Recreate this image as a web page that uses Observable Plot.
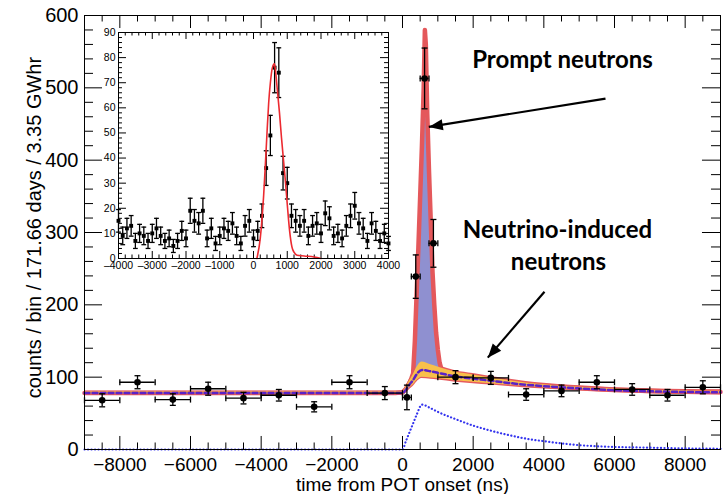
<!DOCTYPE html>
<html><head><meta charset="utf-8">
<script src="https://cdn.jsdelivr.net/npm/d3@7"></script>
<script src="https://cdn.jsdelivr.net/npm/@observablehq/plot@0.6"></script>
<style>
body{margin:0;background:#fff;}
#wrap{position:relative;width:725px;height:494px;overflow:hidden;}
#wrap svg{position:absolute;}
</style></head><body><div id="wrap"></div>
<script>
// ---------- main panel data ----------
const mainX     = [-8500,-7500,-6500,-5500,-4500,-3500,-2500,-1500,-500,125,375,625,875,1500,2500,3500,4500,5500,6500,7500,8500];
const mainXErr  = [500,500,500,500,500,500,500,500,500,125,125,125,125,500,500,500,500,500,500,500,500];
const mainY     = [68,93,69,84,71,75,59,93,78,72,239,513,285,100,99,76,81,93,83,75,86];
const mainYErr  = [9,9,8,9,8,8,7,9,9,17,30,42,33,9,9,8,8,9,8,8,9];

// total fit (red)
const totalT = [-9000,-200,0,100,200,250,300,350,400,450,500,550,600,633,660,700,750,800,850,900,950,1000,1050,1100,1200,1500,2000,2500,3000,3500,4000,5000,6000,7000,8000,9000];
const totalV = [78,78,79,84,92,98,105,150,215,280,350,420,500,580,560,465,385,315,245,200,162,138,120,111,107,103,99,96,93,90,88,85,82.5,81,80,79.5];

// neutrino-induced component band (orange), central (purple dashed), total band (red)
const ninT   = [-9000,0,100,200,300,400,550,800,1000,1500,2000,2500,3000,3500,4000,5000,6000,7000,8000,9000];
const ninLo  = [76.5,76.5,80,85,89,95,100,99,98,95,93,91,89,87,85.5,83,80.5,79,78,77.5];
const ninMid = [78,78,83,90,96,104,110,108,106,101,98,95,92,89.5,87.5,84.5,82,80.5,79.5,79];
const ninHi  = [79.5,79.5,86,95,103,113,121,117,114,107,103,99,95.5,92,89.5,86,83.5,82,81,80.5];
const totLo  = [75,75,78,83,87,93,98,97,96,93,91,89,87,85,83.5,81,78.5,77,76,75.5];
const totHi  = [81,81,88,97,105,115,123,119,116,109,105,101,97.5,94,91.5,88,85.5,84,83,82.5];

// neutrino-induced signal alone (blue dotted)
const sigT = [-9000,0,100,200,300,400,550,800,1000,1500,2000,2500,3000,3500,4000,5000,6000,7000,8000,9000];
const sigV = [0,0,12,24,36,48,62,57,52,42,33,26,20,15,11.5,6,3.5,2.5,1.5,1];

// axis ticks
const xMajor = [-8000,-6000,-4000,-2000,0,2000,4000,6000,8000];
const yMajor = [0,100,200,300,400,500,600];

// ---------- inset data ----------
const insetCounts = [15,9,12,13,7,10,9,7,10,12,9,7,8,5,7,11,8,19,15,14,19,8,12,6,9,12,11,14,9,6,13,15,8,11,17,
                     36,49,76,74,34,30,17,15,13,15,9,13,14,10,18,16,9,10,8,13,17,21,14,12,7,14,11,7,10,6];
const insetErr = [4.5,3.5,4.0,4.1,3.0,3.6,3.5,3.0,3.6,4.0,3.5,3.0,3.3,2.6,3.0,3.8,3.3,5.0,4.5,4.3,5.0,3.3,4.0,2.8,3.5,4.0,3.8,4.3,3.5,2.8,4.1,4.5,3.3,3.8,4.7,
                  6.9,8.0,10.0,9.9,6.7,6.3,4.7,4.5,4.1,4.5,3.5,4.1,4.3,3.6,4.9,4.6,3.5,3.6,3.3,4.1,4.7,5.3,4.3,4.0,3.0,4.3,3.8,3.0,3.6,2.8];
const insetBinWidth = 125;
const insetFitT = [100,200,300,350,400,450,500,560,620,650,700,770,830,890,950,1010,1070,1140,1200,1290,1500,1800,2000];
const insetFitV = [0,8,25,37,50,62,70,76,77.5,75,68,58,48,39,30,20,11,4.5,2.5,1.3,1,0.6,0];
const insetXTicks = [-4000,-3000,-2000,-1000,0,1000,2000,3000,4000];
const insetYTicks = [0,10,20,30,40,50,60,70,80,90];

// ---------- build tables ----------
const pts = mainX.map((x,i)=>({x, xe: mainXErr[i], y: mainY[i], ye: mainYErr[i]}));
const total = totalT.map((t,i)=>({t, v: totalV[i]}));
const nin = ninT.map((t,i)=>({t, lo: ninLo[i], mid: ninMid[i], hi: ninHi[i], tlo: totLo[i], thi: totHi[i]}));
const sig = sigT.map((t,i)=>({t, v: sigV[i]}));
const insetPts = insetCounts.map((c,i)=>({x: -4000 + i*insetBinWidth, y: c, e: insetErr[i]}));
const insetFit = insetFitT.map((t,i)=>({t, v: insetFitV[i]}));

const hCap = {draw(ctx, size){ const r = Math.sqrt(size/Math.PI); ctx.moveTo(-r,0); ctx.lineTo(r,0); }};
const vCap = {draw(ctx, size){ const r = Math.sqrt(size/Math.PI); ctx.moveTo(0,-r); ctx.lineTo(0,r); }};
const arrowHead = {draw(ctx, size){ const r = Math.sqrt(size/Math.PI); ctx.moveTo(0,0); ctx.lineTo(-0.8*r, 2*r); ctx.lineTo(0.8*r, 2*r); ctx.closePath(); }};
const fmt = d => d < 0 ? "\u2212" + (-d) : String(d);
const fmtInset = d => d < 0 ? "\u2013" + (-d) : String(d);

const xMinor = d3.range(-8500, 8501, 500).filter(d => !xMajor.includes(d));
const yMinor = d3.range(0, 601, 20).filter(d => !yMajor.includes(d));

const main = Plot.plot({
  width: 725, height: 494,
  marginLeft: 84, marginRight: 5, marginTop: 15, marginBottom: 45,
  style: {fontFamily: "'Liberation Sans', Arial, sans-serif", background: "white", overflow: "visible"},
  x: {domain: [-9000, 9000], label: null},
  y: {domain: [0, 600], label: null},
  marks: [
    // ticks inside frame
    Plot.ruleX(xMajor, {x: d=>d, y1: 0, y2: 18, stroke: "black"}),
    Plot.ruleX(xMinor, {x: d=>d, y1: 0, y2: 9, stroke: "black"}),
    Plot.ruleX(xMajor, {x: d=>d, y1: 600, y2: 582, stroke: "black"}),
    Plot.ruleX(xMinor, {x: d=>d, y1: 600, y2: 591, stroke: "black"}),
    Plot.ruleY(yMajor, {y: d=>d, x1: -9000, x2: -8490, stroke: "black"}),
    Plot.ruleY(yMinor, {y: d=>d, x1: -9000, x2: -8745, stroke: "black"}),
    Plot.ruleY(yMajor, {y: d=>d, x1: 9000, x2: 8490, stroke: "black"}),
    Plot.ruleY(yMinor, {y: d=>d, x1: 9000, x2: 8745, stroke: "black"}),
    // total band
    Plot.areaY(nin, {x: "t", y1: "tlo", y2: "thi", fill: "#e65a5e", curve: "monotone-x"}),
    Plot.areaY(total.filter(d => d.t >= 250 && d.t <= 1100), {x: "t", y1: 100, y2: "v", fill: "#8f90d0", curve: "linear"}),
    Plot.line(total, {x: "t", y: "v", stroke: "#e4585b", strokeWidth: 4.5, curve: "linear"}),
    // neutrino-induced band
    Plot.areaY(nin, {x: "t", y1: "lo", y2: "hi", fill: "#f8c04a", curve: "monotone-x"}),
    Plot.line(nin, {x: "t", y: "mid", stroke: "#5a22c8", strokeWidth: 2.5, strokeDasharray: "5,3", curve: "monotone-x"}),
    Plot.line(sig, {x: "t", y: "v", stroke: "#3434ee", strokeWidth: 2.2, strokeDasharray: "0.1,3.4", strokeLinecap: "round", curve: "monotone-x"}),
    // data points
    Plot.ruleX(pts, {x: "x", y1: d => d.y - d.ye, y2: d => d.y + d.ye, stroke: "black", strokeWidth: 1.3}),
    Plot.ruleY(pts, {y: "y", x1: d => d.x - d.xe, x2: d => d.x + d.xe, stroke: "black", strokeWidth: 1.3}),
    Plot.dot(pts, {x: "x", y: d => d.y + d.ye, symbol: hCap, r: 3, stroke: "black", strokeWidth: 1.3}),
    Plot.dot(pts, {x: "x", y: d => d.y - d.ye, symbol: hCap, r: 3, stroke: "black", strokeWidth: 1.3}),
    Plot.dot(pts, {x: d => d.x - d.xe, y: "y", symbol: vCap, r: 3, stroke: "black", strokeWidth: 1.3}),
    Plot.dot(pts, {x: d => d.x + d.xe, y: "y", symbol: vCap, r: 3, stroke: "black", strokeWidth: 1.3}),
    Plot.dot(pts, {x: "x", y: "y", r: 3.3, fill: "black"}),
    // annotations
    Plot.link([{x1: 5745, y1: 485, x2: 744, y2: 446}], {x1: "x1", y1: "y1", x2: "x2", y2: "y2", stroke: "black", strokeWidth: 2.2}),
    Plot.dot([{x: 744, y: 446}], {x: "x", y: "y", symbol: arrowHead, r: 7, fill: "black", rotate: -99}),
    Plot.link([{x1: 4019, y1: 218, x2: 2414, y2: 127}], {x1: "x1", y1: "y1", x2: "x2", y2: "y2", stroke: "black", strokeWidth: 2.2}),
    Plot.dot([{x: 2414, y: 127}], {x: "x", y: "y", symbol: arrowHead, r: 7, fill: "black", rotate: -139}),
    Plot.text(["Prompt neutrons"], {x: 4528, y: 538, fontSize: 24, fontWeight: "bold", fontFamily: "Lato", fill: "black"}),
    Plot.text(["Neutrino-induced"], {x: 4387, y: 303, fontSize: 24, fontWeight: "bold", fontFamily: "Lato", fill: "black"}),
    Plot.text(["neutrons"], {x: 4415, y: 258.5, fontSize: 24, fontWeight: "bold", fontFamily: "Lato", fill: "black"}),
    // axes
    Plot.axisX({ticks: xMajor, tickSize: 0, tickPadding: 8, fontSize: 19, tickFormat: fmt, label: null}),
    Plot.axisY({ticks: yMajor, tickSize: 0, tickPadding: 6, fontSize: 20, tickFormat: fmt, label: null}),
    Plot.text(["time from POT onset (ns)"], {frameAnchor: "bottom", lineAnchor: "middle", textAnchor: "middle", dy: 35, fontSize: 19}),
    Plot.text(["counts / bin / 171.66 days / 3.35 GWhr"], {frameAnchor: "left", textAnchor: "middle", lineAnchor: "middle", rotate: -90, dx: -50, dy: -5, fontSize: 20}),
    Plot.frame({stroke: "black", strokeWidth: 1})
  ]
});
main.style.left = "0px"; main.style.top = "0px";
document.getElementById("wrap").appendChild(main);

// ---------- inset ----------
const ixMajor = insetXTicks, iyMajor = insetYTicks;
const ixMinor = d3.range(-4000, 4001, 200).filter(d => !ixMajor.includes(d));
const iyMinor = d3.range(0, 91, 2).filter(d => !iyMajor.includes(d));
const inset = Plot.plot({
  width: 305, height: 250,
  marginLeft: 25, marginRight: 10, marginTop: 3, marginBottom: 21,
  style: {fontFamily: "'Liberation Sans', Arial, sans-serif", background: "transparent", overflow: "visible"},
  x: {domain: [-4000, 4000], label: null},
  y: {domain: [0, 90], label: null},
  marks: [
    Plot.ruleX(ixMajor, {x: d=>d, y1: 0, y2: 2.8, stroke: "black"}),
    Plot.ruleX(ixMinor, {x: d=>d, y1: 0, y2: 1.4, stroke: "black"}),
    Plot.ruleX(ixMajor, {x: d=>d, y1: 90, y2: 87.2, stroke: "black"}),
    Plot.ruleX(ixMinor, {x: d=>d, y1: 90, y2: 88.6, stroke: "black"}),
    Plot.ruleY(iyMajor, {y: d=>d, x1: -4000, x2: -3763, stroke: "black"}),
    Plot.ruleY(iyMinor, {y: d=>d, x1: -4000, x2: -3882, stroke: "black"}),
    Plot.ruleY(iyMajor, {y: d=>d, x1: 4000, x2: 3763, stroke: "black"}),
    Plot.ruleY(iyMinor, {y: d=>d, x1: 4000, x2: 3882, stroke: "black"}),
    Plot.ruleX(insetPts, {x: "x", y1: d => d.y - d.e, y2: d => d.y + d.e, stroke: "black", strokeWidth: 1.3}),
    Plot.dot(insetPts, {x: "x", y: d => d.y + d.e, symbol: hCap, r: 2.4, stroke: "black", strokeWidth: 1.3}),
    Plot.dot(insetPts, {x: "x", y: d => d.y - d.e, symbol: hCap, r: 2.4, stroke: "black", strokeWidth: 1.3}),
    Plot.dot(insetPts, {x: "x", y: "y", symbol: "square", r: 2.2, fill: "black"}),
    Plot.line(insetFit, {x: "t", y: "v", stroke: "#ec2a30", strokeWidth: 1.6, curve: "monotone-x"}),
    Plot.axisX({ticks: ixMajor, tickSize: 0, tickPadding: 3, fontSize: 10.5, tickFormat: fmtInset, label: null}),
    Plot.axisY({ticks: iyMajor, tickSize: 0, tickPadding: 3, fontSize: 10.5, tickFormat: fmtInset, label: null}),
    Plot.frame({stroke: "black", strokeWidth: 1})
  ]
});
inset.style.left = "93px"; inset.style.top = "29px";
document.getElementById("wrap").appendChild(inset);
</script>
</body></html>
